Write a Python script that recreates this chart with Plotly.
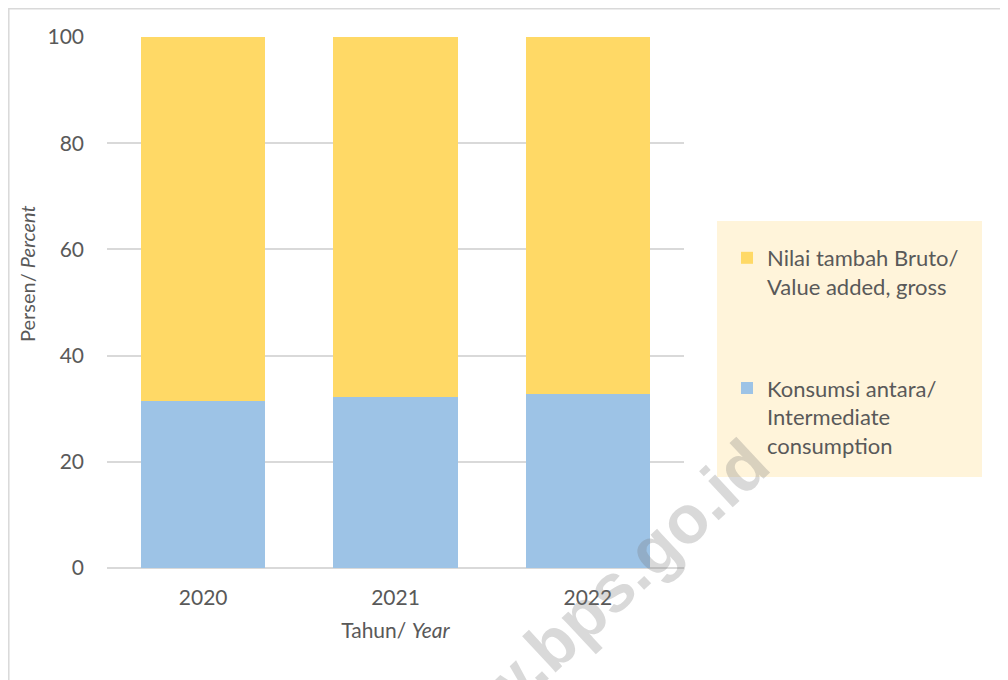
import plotly.graph_objects as go

years = ["2020", "2021", "2022"]
intermediate = [31.4, 32.2, 32.8]
value_added = [68.6, 67.8, 67.2]
y_ticks = [0, 20, 40, 60, 80, 100]

W, H = 1008, 680
OFF = 8  # page body margin: screen px = figure px + 8
L, R, T, B = 107 - OFF, 684 - OFF, 37 - OFF, 568 - OFF  # plot area in figure px
pw, ph = R - L, B - T

def px_x(v):  # v in screen px
    return (v - OFF - L) / pw

def px_y(v):
    return (B - (v - OFF)) / ph

FONT = "Lato"
TXT = "#595959"

fig = go.Figure()
fig.add_trace(go.Bar(
    x=years, y=intermediate, name="Konsumsi antara/<br>Intermediate<br>consumption",
    marker=dict(color="#9DC3E6", line=dict(width=0)), legendgroup="b", legendrank=2,
))
fig.add_trace(go.Bar(
    x=years, y=value_added, name="Nilai tambah Bruto/<br>Value added, gross",
    marker=dict(color="#FFD966", line=dict(width=0)), legendgroup="a", legendrank=1,
))

fig.update_layout(
    width=W, height=H,
    margin=dict(l=L, r=W - R, t=T, b=H - B, autoexpand=False),
    barmode="stack", bargap=0.355,
    paper_bgcolor="white", plot_bgcolor="white",
    font=dict(family=FONT, color=TXT, size=21),
    showlegend=True,
    legend=dict(
        x=px_x(727), y=px_y(237), xanchor="left", yanchor="top",
        bgcolor="rgba(0,0,0,0)", traceorder="grouped", valign="top",
        tracegroupgap=70, font=dict(family=FONT, size=22, color=TXT),
        itemclick=False,
    ),
    xaxis=dict(
        showgrid=False, showline=False, zeroline=False,
        tickfont=dict(size=21, color=TXT), ticklabelstandoff=15,
        title=dict(text="Tahun/ <i>Year</i>", font=dict(size=21, color=TXT), standoff=15),
    ),
    yaxis=dict(
        range=[0, 100], tickvals=y_ticks, showgrid=True, gridcolor="#D9D9D9", gridwidth=1.5,
        zeroline=True, zerolinecolor="#D9D9D9", zerolinewidth=1.5, showline=False,
        tickfont=dict(size=21, color=TXT), ticklabelstandoff=22,
    ),
    shapes=[
        dict(type="rect", xref="paper", yref="paper", layer="below",
             x0=px_x(717), x1=px_x(982), y0=px_y(477), y1=px_y(221),
             fillcolor="#FFF4DA", line=dict(width=0)),
        dict(type="rect", xref="paper", yref="paper", layer="below",
             x0=px_x(OFF + 0.8), x1=px_x(1030), y0=px_y(700), y1=px_y(OFF + 0.8),
             fillcolor="rgba(0,0,0,0)", line=dict(color="#D9D9D9", width=1.5)),
    ],
    annotations=[
        dict(text="Persen/ <i>Percent</i>", xref="paper", yref="paper",
             x=px_x(27), y=px_y(274), xanchor="center", yanchor="middle",
             showarrow=False, textangle=-90, font=dict(family=FONT, size=20, color=TXT)),
        dict(text="<b>www.bps.go.id</b>", xref="paper", yref="paper",
             x=px_x(582), y=px_y(615), xanchor="center", yanchor="middle",
             showarrow=False, textangle=-43,
             font=dict(family="Liberation Sans", size=68, color="rgba(120,120,120,0.28)")),
    ],
)

fig.write_html("out.html")
